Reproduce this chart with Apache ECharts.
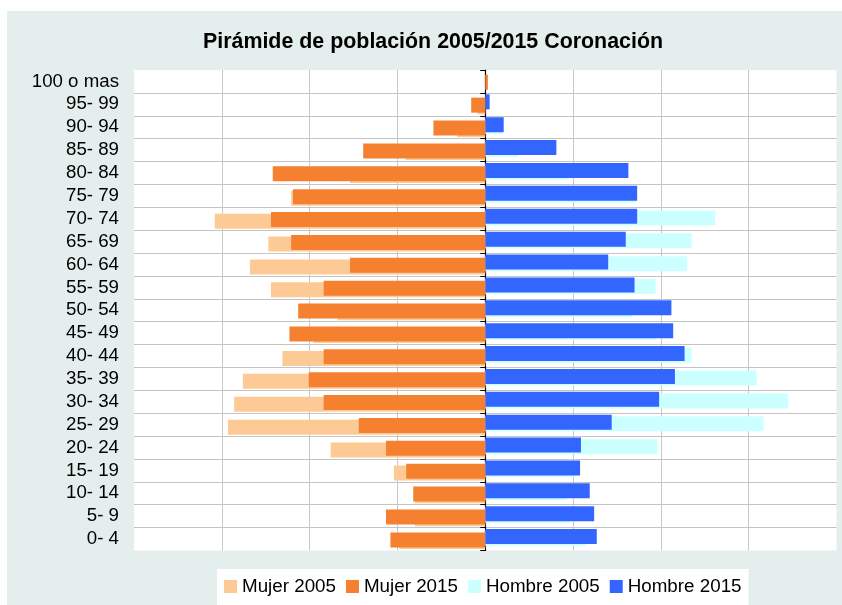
<!DOCTYPE html>
<html>
<head>
<meta charset="utf-8">
<script src="https://cdn.jsdelivr.net/npm/echarts@6/dist/echarts.min.js"></script>
<style>
  html, body { margin: 0; padding: 0; background: #ffffff; }
  #bg { position: absolute; left: 7px; top: 11px; width: 835px; height: 594px; background: #E4EEEC; }
  #chart { position: absolute; left: 0; top: 0; width: 842px; height: 605px; }
</style>
</head>
<body>
<div id="bg"></div>
<div id="chart"></div>
<script>
// Categories (top to bottom)
const categories = ['100 o mas', '95- 99', '90- 94', '85- 89', '80- 84', '75- 79', '70- 74',
  '65- 69', '60- 64', '55- 59', '50- 54', '45- 49', '40- 44', '35- 39', '30- 34',
  '25- 29', '20- 24', '15- 19', '10- 14', '5- 9', '0- 4'];

// Values as plotted (women negative = left side)
const mujer2005 = [0, -0.09, -0.32, -0.91, -1.54, -2.21, -3.08, -2.47, -2.68, -2.44, -1.68,
  -1.96, -2.31, -2.76, -2.86, -2.93, -1.76, -1.04, -0.80, -0.80, -0.98];
const mujer2015 = [0.03, -0.16, -0.59, -1.39, -2.42, -2.19, -2.44, -2.21, -1.54, -1.84, -2.13,
  -2.23, -1.84, -2.01, -1.84, -1.44, -1.13, -0.90, -0.82, -1.13, -1.08];
const hombre2005 = [0, 0, 0.19, 0.37, 0.95, 1.71, 2.62, 2.35, 2.30, 1.94, 1.67,
  1.95, 2.35, 3.09, 3.45, 3.17, 1.96, 1.03, 0.93, 0.97, 1.14];
const hombre2015 = [0, 0.05, 0.21, 0.81, 1.63, 1.73, 1.73, 1.60, 1.40, 1.70, 2.12,
  2.14, 2.27, 2.16, 1.98, 1.44, 1.09, 1.08, 1.19, 1.24, 1.27];

const seriesNames = ['Mujer 2005', 'Mujer 2015', 'Hombre 2005', 'Hombre 2015'];
const titleText = 'Pirámide de población 2005/2015 Coronación';

const FONT = '"Liberation Sans", Arial, sans-serif';
const chart = echarts.init(document.getElementById('chart'), null, { renderer: 'canvas' });

function barSeries(name, data, color, z) {
  return {
    name: name, type: 'bar', data: data, yAxisIndex: 0,
    barWidth: 15, barGap: '-89%', z: z,
    itemStyle: { color: color },
    emphasis: { disabled: true }
  };
}

chart.setOption({
  backgroundColor: 'transparent',
  animation: false,
  textStyle: { fontFamily: FONT },
  graphic: [{
    type: 'text', x: 433, y: 42,
    style: { text: titleText, font: 'bold 21.4px ' + FONT, fill: '#000', textAlign: 'center', textVerticalAlign: 'middle' }
  }],
  grid: { left: 134, right: 5.5, top: 70, bottom: 54.5, show: true, backgroundColor: '#ffffff', borderWidth: 0 },
  legend: {
    data: seriesNames,
    left: 217, top: 569,
    icon: 'rect', itemWidth: 13, itemHeight: 13, itemGap: 10,
    backgroundColor: '#ffffff', padding: [8, 7, 9, 7],
    textStyle: { fontSize: 18.8, color: '#000', fontFamily: FONT },
    selectedMode: false
  },
  xAxis: {
    type: 'value', min: -4, max: 4, interval: 1,
    axisLabel: { show: false }, axisLine: { show: false }, axisTick: { show: false },
    splitLine: { show: true, showMinLine: false, showMaxLine: false, lineStyle: { color: '#C8C8C8', width: 1 } }
  },
  yAxis: [{
    type: 'category', inverse: true, data: categories, position: 'left',
    axisLine: { show: false, onZero: false }, axisTick: { show: false },
    axisLabel: { interval: 0, fontSize: 18.7, color: '#000', margin: 15, fontFamily: FONT },
    splitLine: { show: true, interval: 0, showMinLine: false, showMaxLine: false, lineStyle: { color: '#C4C4C4', width: 1 } }
  }, {
    type: 'category', inverse: true, data: categories, position: 'left',
    axisLine: { show: true, onZero: true, lineStyle: { color: '#000', width: 1.2 } },
    axisTick: { show: true, interval: 0, length: 5, lineStyle: { color: '#000', width: 1 } },
    axisLabel: { show: false }, splitLine: { show: false }
  }],
  series: [
    barSeries('Hombre 2015', hombre2015, '#3366FF', 4),
    barSeries('Hombre 2005', hombre2005, '#CCFFFF', 2),
    barSeries('Mujer 2015', mujer2015, '#F58030', 4),
    barSeries('Mujer 2005', mujer2005, '#FDCA96', 2)
  ]
});
</script>
</body>
</html>
